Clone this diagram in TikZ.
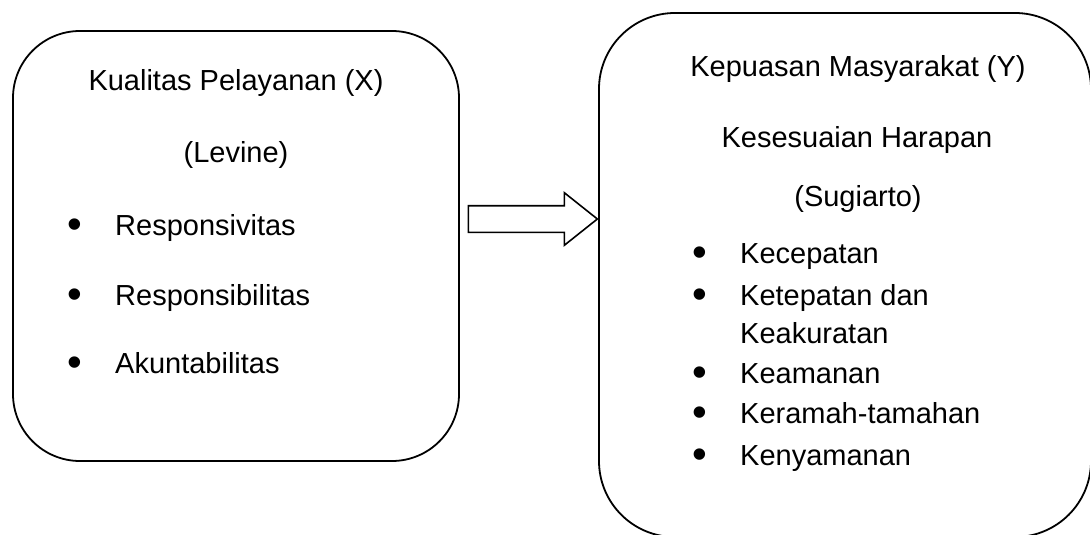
\documentclass[tikz,border=0pt]{standalone}
\usepackage{fontspec}
\setmainfont{Liberation Sans}
\usetikzlibrary{shapes.arrows,positioning}
\tikzset{
    box/.style={
           rectangle,
           draw=black, line width=1.8pt,
           inner sep=0pt,
           },
    txt/.style={
           anchor=base,
           inner sep=0pt,
           font=\fontsize{29}{35}\selectfont,
           },
    itm/.style={
           txt,
           anchor=base west,
           },
    bigarrow/.style={
           single arrow,
           draw=black, line width=1.6pt,
           inner xsep=0pt,
           inner ysep=12.5pt,
           minimum height=129pt,
           single arrow head extend=13pt,
           single arrow tip angle=77,
           }
}
\newcommand{\bul}{\makebox[48pt][l]{\raisebox{-3.5pt}{\scalebox{1.45}{\textbullet}}}}

\begin{document}
\begin{tikzpicture}[x=1pt,y=-1pt]
\useasboundingbox (0,0) rectangle (1090,535);
\node[box, minimum width=446pt, minimum height=430pt, rounded corners=67pt] (lbox) at (236,246) {};
\node[box, minimum width=492pt, minimum height=524pt, rounded corners=76pt] (rbox) at (845,275) {};
\node[bigarrow] (arr) at (524.5,219) {};
\node[txt] (lhead) at (236,90) {Kualitas Pelayanan (X)};
\node[txt] (lref) at (236,162) {(Levine)};
\node[itm] (l1) at (67,235) {\bul Responsivitas};
\node[itm] (l2) at (67,305) {\bul Responsibilitas};
\node[itm] (l3) at (67,373) {\bul Akuntabilitas};
\node[txt] (rhead) at (858,77) {Kepuasan Masyarakat (Y)};
\node[txt] (rsub) at (857,147) {Kesesuaian Harapan};
\node[txt] (rref) at (858,206) {(Sugiarto)};
\node[itm] (r1) at (692,263) {\bul Kecepatan};
\node[itm] (r2) at (692,305) {\bul Ketepatan dan};
\node[itm] (r2b) at (740,343) {Keakuratan};
\node[itm] (r3) at (692,383) {\bul Keamanan};
\node[itm] (r4) at (692,423) {\bul Keramah-tamahan};
\node[itm] (r5) at (692,465) {\bul Kenyamanan};
\end{tikzpicture}
\end{document}
